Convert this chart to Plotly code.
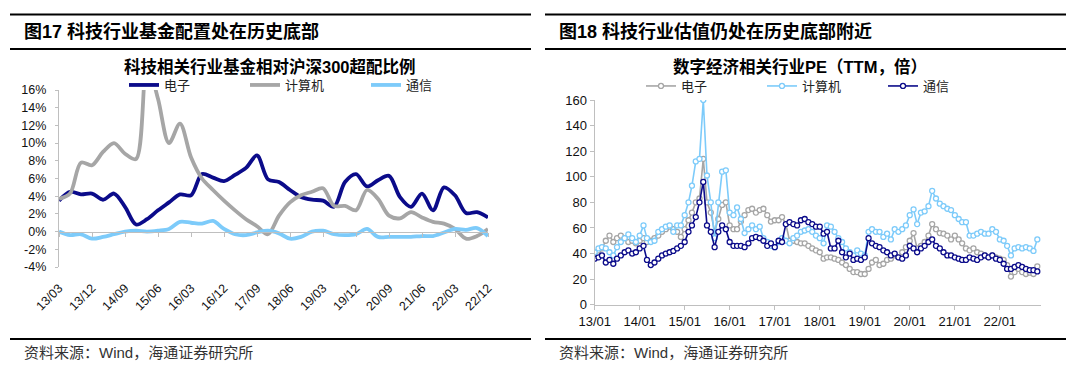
import plotly.graph_objects as go
import pandas as pd

W, H = 1080, 368

# ---------------- Left chart: quarterly over-allocation vs CSI300 (%) ----------------
quarters = ['13/03', '13/06', '13/09', '13/12', '14/03', '14/06', '14/09', '14/12',
            '15/03', '15/06', '15/09', '15/12', '16/03', '16/06', '16/09', '16/12',
            '17/03', '17/06', '17/09', '17/12', '18/03', '18/06', '18/09', '18/12',
            '19/03', '19/06', '19/09', '19/12', '20/03', '20/06', '20/09', '20/12',
            '21/03', '21/06', '21/09', '21/12', '22/03', '22/06', '22/09', '22/12']
left_xticks = ['13/03', '13/12', '14/09', '15/06', '16/03', '16/12', '17/09',
               '18/06', '19/03', '19/12', '20/09', '21/06', '22/03', '22/12']
left_yticks = [-4, -2, 0, 2, 4, 6, 8, 10, 12, 14, 16]
left_yticktext = ['-4%', '-2%', '0%', '2%', '4%', '6%', '8%', '10%', '12%', '14%', '16%']

dianzi_fund = [3.5, 4.5, 4.2, 4.3, 3.6, 4.3, 2.8, 0.8, 1.4, 2.4,
               3.3, 4.2, 4.1, 6.5, 6.1, 5.7, 6.4, 7.2, 8.6, 5.9,
               5.6, 4.7, 3.9, 3.6, 3.5, 2.8, 5.6, 6.5, 5.1, 5.8,
               6.3, 3.9, 2.8, 4.3, 2.4, 5.0, 4.1, 2.1, 2.2, 1.6]
jisuanji_fund = [3.7, 4.3, 7.8, 7.5, 9.0, 10.0, 8.8, 8.2, 19.0, 15.0,
                 10.0, 12.2, 8.4, 6.0, 4.7, 3.5, 2.4, 1.4, 0.6, -0.3,
                 1.8, 3.3, 4.1, 4.5, 4.9, 2.9, 2.9, 2.4, 4.7, 3.7,
                 1.8, 1.5, 2.2, 1.6, 1.1, 0.9, 0.3, -0.8, -0.5, 0.3]
tongxin_fund = [0.0, -0.4, -0.3, -0.8, -0.6, -0.3, 0.0, 0.1, 0.0, 0.1,
                0.3, 1.1, 1.0, 0.9, 1.2, 0.3, -0.3, -0.4, -0.1, 0.1,
                -0.2, -0.8, -0.6, 0.0, 0.1, -0.3, -0.4, -0.3, 0.3, -0.6,
                -0.6, -0.6, -0.6, -0.5, -0.5, -0.1, 0.3, 0.2, 0.4, -0.5]

# ---------------- Right chart: monthly PE (TTM) ----------------
pe_months = list(pd.date_range('2013-01-01', '2022-11-01', freq='MS'))
right_xtickvals = ['2013-01-01', '2014-01-01', '2015-01-01', '2016-01-01', '2017-01-01',
                   '2018-01-01', '2019-01-01', '2020-01-01', '2021-01-01', '2022-01-01']
right_xticktext = ['13/01', '14/01', '15/01', '16/01', '17/01',
                   '18/01', '19/01', '20/01', '21/01', '22/01']

pe_dianzi = [37, 38.5, 44, 50, 54, 49, 52, 54, 52, 49, 50, 48,
             50, 52, 49, 50, 52, 54, 57, 59, 61, 59, 57, 53,
             59, 66, 72, 80, 83, 114, 80, 72, 57, 67, 78, 80,
             62, 59, 59, 65, 70, 74, 75, 72, 74, 75, 70, 65,
             66, 66, 68.5, 63, 50, 50, 49, 48, 48, 46, 44, 42.5,
             41, 36, 37, 37, 36, 35, 33, 31, 28, 25.5, 25.5, 24,
             24, 28, 33, 35, 31, 32, 35, 36, 38.5, 37, 41, 45,
             50, 56, 44, 46, 49, 54, 63, 59, 56, 55.5, 54, 51,
             54, 51, 48, 44, 42.5, 44, 41, 40, 38.5, 37, 38.5, 37,
             36, 35, 31, 22, 25.5, 28, 25.5, 24, 25, 24, 30]
pe_jisuanji = [41, 44, 45, 44, 41, 38.5, 45, 49, 52, 55, 52, 49,
               54, 62, 52, 49, 50, 57, 59, 61, 62, 57, 62, 62,
               70, 80, 93, 112, 114, 160, 101, 80, 52, 80, 104, 105,
               72, 70, 76, 67, 56, 59, 62, 59, 61, 52, 49, 46,
               45, 49, 52, 50, 48, 52, 54, 57, 58, 59, 57, 54,
               52, 48, 62, 61, 57, 52, 49, 44, 41, 38.5, 42.5, 40,
               38.5, 57, 59, 57, 57, 53, 55.5, 51, 59, 57, 59, 62,
               70, 74.5, 63, 72, 73, 77, 89, 83, 79, 77, 75, 74,
               70, 67, 64.5, 64.5, 54, 54, 55.5, 57, 55.5, 55.5, 59, 57,
               51, 50, 46, 38.5, 44, 45, 44, 45, 44, 42, 51]
pe_tongxin = [36, 37, 38.5, 33, 35, 32, 36, 38.5, 41, 42.5, 40, 41,
              44, 46, 35, 31, 33, 36, 38.5, 40, 41, 42, 44, 46,
              49, 57, 62, 68.5, 80, 96, 62, 57, 45, 57, 62, 59,
              49, 46, 46, 46, 45, 48, 52, 53, 52, 50, 46, 48,
              45, 50, 49, 63, 64.5, 63, 62, 66, 67, 64.5, 63, 61,
              61, 55.5, 57, 44, 44, 50, 41, 37, 40, 35, 36, 35,
              37, 52, 48, 46, 45, 42.5, 41, 38.5, 40, 37, 36, 38.5,
              46, 44, 41, 44, 46, 49, 51, 46, 44, 41, 38.5, 38.5,
              37, 36, 35, 35, 37, 36, 35, 37, 38.5, 37, 38.5, 36,
              35, 32, 28, 28, 29.5, 31, 29.5, 28, 27, 27, 26]

NAVY = '#0B0B8A'
GRAY = '#A6A6A6'
LBLUE = '#7DCBFA'
AXIS = '#BFBFBF'
FONT = 'Liberation Sans, Arial, Noto Sans CJK SC, sans-serif'
CJK = 'Noto Sans CJK SC, sans-serif'


def px(x):
    return x / W


def py(y):
    return 1 - y / H


fig = go.Figure()

# Left traces
for name, vals, col in [('电子', dianzi_fund, NAVY), ('计算机', jisuanji_fund, GRAY),
                        ('通信', tongxin_fund, LBLUE)]:
    fig.add_trace(go.Scatter(x=quarters, y=vals, name=name, mode='lines',
                             line=dict(color=col, width=3.8, shape='spline', smoothing=0.9),
                             xaxis='x', yaxis='y', legend='legend'))
# helper trace for the zero-crossing category axis
fig.add_trace(go.Scatter(x=quarters, y=[None] * len(quarters), xaxis='x2', yaxis='y',
                         showlegend=False, hoverinfo='skip', mode='lines'))

# Right traces
for name, vals, col in [('电子', pe_dianzi, GRAY), ('计算机', pe_jisuanji, LBLUE),
                        ('通信', pe_tongxin, NAVY)]:
    fig.add_trace(go.Scatter(x=pe_months, y=vals, name=name, mode='lines+markers',
                             line=dict(color=col, width=1.6),
                             marker=dict(symbol='circle', size=5, color='white',
                                         line=dict(color=col, width=1.3)),
                             xaxis='x3', yaxis='y3', legend='legend2'))

# Left plot geometry
L_x0, L_x1 = 59, 488
L_ytop, L_ybot = 90, 267
ldom_y = [py(L_ybot), py(L_ytop)]
zero_pos = ldom_y[0] + (0 - (-4)) / 20 * (ldom_y[1] - ldom_y[0])

# Right plot geometry
R_x0, R_x1 = 594.7, 1041
R_ytop, R_ybot = 100, 304.7

fig.update_layout(
    width=W, height=H, autosize=False,
    margin=dict(l=0, r=0, t=0, b=0, autoexpand=False),
    paper_bgcolor='white', plot_bgcolor='white',
    hovermode=False,
    font=dict(family=FONT, color='#111111'),
    xaxis=dict(domain=[px(L_x0), px(L_x1)], anchor='y', type='category', automargin=False,
               categoryorder='array', categoryarray=quarters, range=[0, len(quarters) - 1],
               tickmode='array', tickvals=left_xticks, ticktext=left_xticks,
               tickangle=-45, tickfont=dict(size=12.5, family=FONT),
               showline=False, showgrid=False, zeroline=False,
               ticks='outside', ticklen=8, tickcolor='rgba(0,0,0,0)'),
    xaxis2=dict(domain=[px(L_x0), px(L_x1)], anchor='free', position=zero_pos,
                overlaying='x', type='category', categoryorder='array', automargin=False,
                categoryarray=quarters, range=[0, len(quarters) - 1],
                tickmode='array', tickvals=left_xticks, showticklabels=False,
                ticks='outside', ticklen=4, tickcolor=AXIS, tickwidth=1,
                showline=True, linecolor=AXIS, linewidth=1.2, showgrid=False, zeroline=False),
    yaxis=dict(domain=ldom_y, anchor='x', range=[-4, 16], automargin=False,
               tickmode='array', tickvals=left_yticks, ticktext=left_yticktext,
               tickfont=dict(size=12.5, family=FONT),
               showline=True, linecolor=AXIS, linewidth=1.2,
               ticks='outside', ticklen=3, tickcolor=AXIS,
               showgrid=False, zeroline=False, ticklabelstandoff=6),
    xaxis3=dict(domain=[px(R_x0), px(R_x1)], anchor='y3', type='date', automargin=False,
                range=['2013-01-01', '2022-12-01'],
                tickmode='array', tickvals=right_xtickvals, ticktext=right_xticktext,
                tickfont=dict(size=13, family=FONT), tickangle=0,
                showline=True, linecolor=AXIS, linewidth=1.2,
                ticks='outside', ticklen=4, tickcolor=AXIS,
                showgrid=False, zeroline=False),
    yaxis3=dict(domain=[py(R_ybot), py(R_ytop)], anchor='x3', range=[0, 160], automargin=False,
                tickmode='linear', tick0=0, dtick=20,
                tickfont=dict(size=13, family=FONT),
                showline=True, linecolor=AXIS, linewidth=1.2,
                ticks='outside', ticklen=4, tickcolor=AXIS,
                showgrid=False, zeroline=False),
    legend=dict(orientation='h', x=px(124), y=py(85), xanchor='left', yanchor='middle',
                font=dict(size=13, family=CJK, color='#222222'),
                bgcolor='rgba(0,0,0,0)', entrywidth=76, itemwidth=30,
                tracegroupgap=0),
    legend2=dict(orientation='h', x=px(641), y=py(86), xanchor='left', yanchor='middle',
                 font=dict(size=13, family=CJK, color='#222222'),
                 bgcolor='rgba(0,0,0,0)', entrywidth=76, itemwidth=30,
                 tracegroupgap=0),
    showlegend=True,
)

annotations = [
    dict(text='<b>图17 科技行业基金配置处在历史底部</b>', x=px(22), y=py(32),
         xanchor='left', yanchor='middle', font=dict(size=18, family=FONT, color='#000')),
    dict(text='<b>科技相关行业基金相对沪深300超配比例</b>', x=px(270), y=py(67),
         xanchor='center', yanchor='middle', font=dict(size=16.5, family=FONT, color='#000')),
    dict(text='资料来源：Wind，海通证券研究所', x=px(22), y=py(352),
         xanchor='left', yanchor='middle', font=dict(size=15, family=FONT, color='#333')),
    dict(text='<b>图18 科技行业估值仍处在历史底部附近</b>', x=px(557), y=py(32),
         xanchor='left', yanchor='middle', font=dict(size=18, family=FONT, color='#000')),
    dict(text='<b>数字经济相关行业PE（TTM，倍）</b>', x=px(800), y=py(67),
         xanchor='center', yanchor='middle', font=dict(size=16.5, family=FONT, color='#000')),
    dict(text='资料来源：Wind，海通证券研究所', x=px(557), y=py(352),
         xanchor='left', yanchor='middle', font=dict(size=15, family=FONT, color='#333')),
]
for a in annotations:
    a.update(xref='paper', yref='paper', showarrow=False)
fig.update_layout(annotations=annotations)

shapes = []
for (xa, xb) in [(10, 531), (545, 1066)]:
    for yy in [14.5, 49, 339]:
        shapes.append(dict(type='line', xref='paper', yref='paper',
                           x0=px(xa), x1=px(xb), y0=py(yy), y1=py(yy),
                           line=dict(color='#000000', width=1.8)))
fig.update_layout(shapes=shapes)

fig.write_html('out.html', config={'displayModeBar': False, 'staticPlot': True},
               post_script="document.body.style.margin='0';")
